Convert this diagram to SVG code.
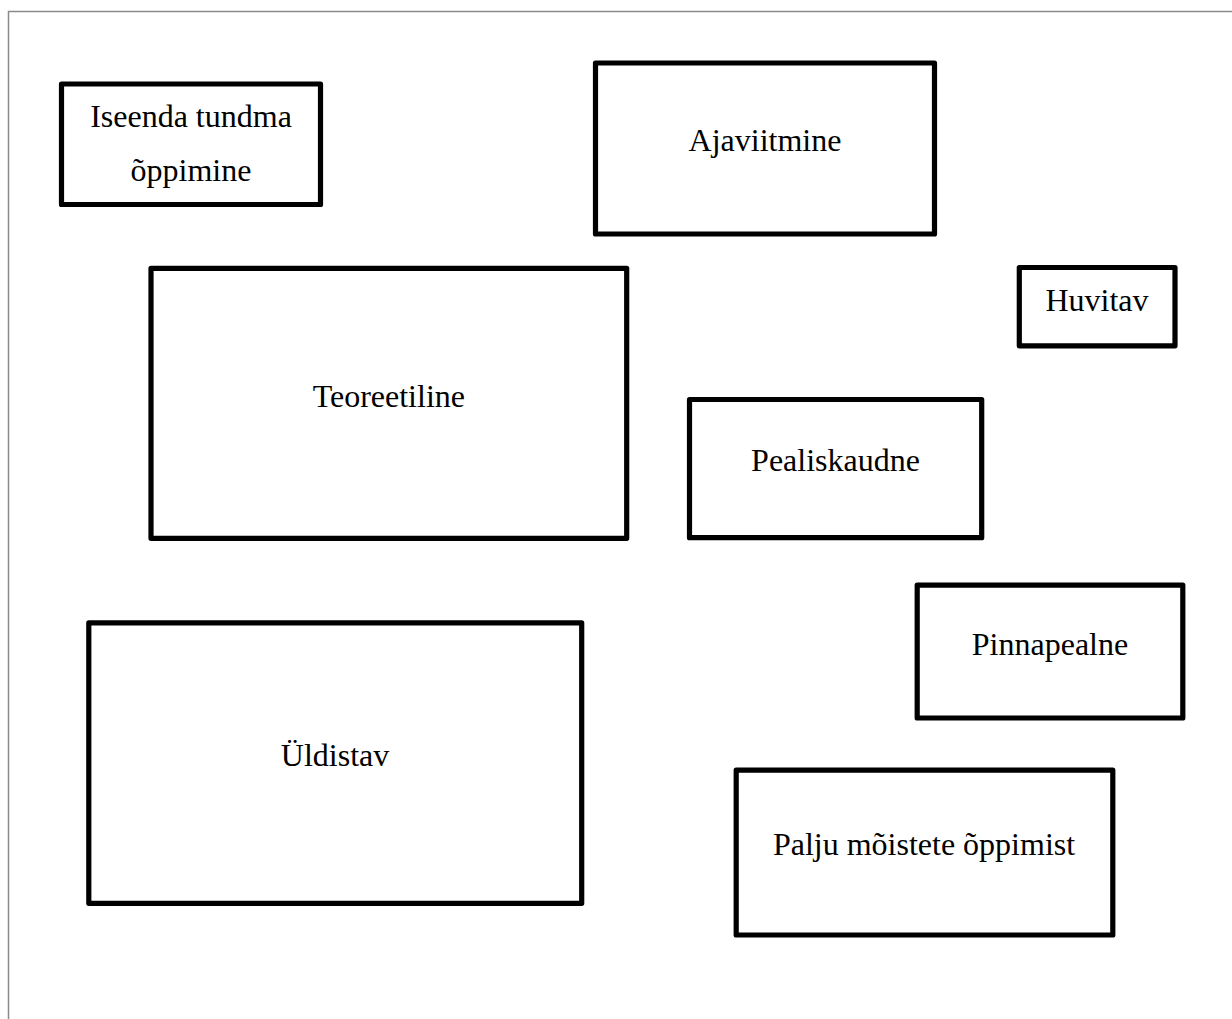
<svg xmlns="http://www.w3.org/2000/svg" width="1232" height="1019" viewBox="0 0 1232 1019">
<style>
.box{fill:#fff;stroke:#000;stroke-width:5.2;stroke-linejoin:round}
.lbl{font-family:"Liberation Serif","Times New Roman",serif;font-size:32px;fill:#000;text-anchor:middle}
.page{stroke:#8a8a8a;stroke-width:1.5;fill:none}
</style>
<rect width="1232" height="1019" fill="#fff"/>
<path class="page" d="M8.5,1019 V11.5 H1232"/>
<g id="connectors"></g>
<g id="n-iseenda">
<rect class="box" x="61.5" y="84" width="259" height="120.5"/>
<text class="lbl" x="191" y="127">Iseenda tundma</text>
<text class="lbl" x="191" y="181">õppimine</text>
</g>
<g id="n-ajaviitmine">
<rect class="box" x="595.5" y="63" width="339" height="171"/>
<text class="lbl" x="765" y="151">Ajaviitmine</text>
</g>
<g id="n-huvitav">
<rect class="box" x="1019.3" y="267.5" width="155.7" height="78.3"/>
<text class="lbl" x="1097" y="310.7">Huvitav</text>
</g>
<g id="n-teoreetiline">
<rect class="box" x="151" y="268.3" width="475.7" height="270"/>
<text class="lbl" x="388.8" y="406.7">Teoreetiline</text>
</g>
<g id="n-pealiskaudne">
<rect class="box" x="689.5" y="399.5" width="292.2" height="138.2"/>
<text class="lbl" x="835.5" y="471">Pealiskaudne</text>
</g>
<g id="n-pinnapealne">
<rect class="box" x="917.2" y="585.2" width="265.6" height="132.8"/>
<text class="lbl" x="1050" y="655">Pinnapealne</text>
</g>
<g id="n-uldistav">
<rect class="box" x="88.8" y="622.8" width="492.9" height="280.5"/>
<text class="lbl" x="335" y="766">Üldistav</text>
</g>
<g id="n-palju">
<rect class="box" x="736.2" y="770.2" width="376.6" height="164.8"/>
<text class="lbl" x="924" y="855">Palju mõistete õppimist</text>
</g>
</svg>
